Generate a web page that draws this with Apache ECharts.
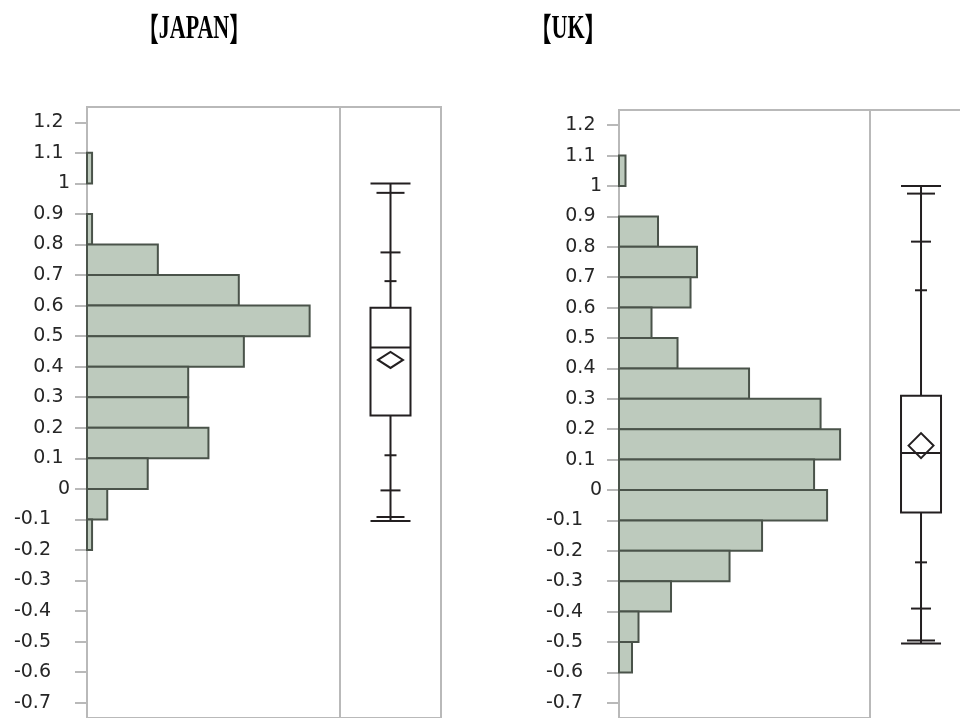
<!DOCTYPE html>
<html>
<head>
<meta charset="utf-8">
<script src="https://cdn.jsdelivr.net/npm/echarts@6/dist/echarts.min.js"></script>
<style>
html,body{margin:0;padding:0;background:#fff;}
#chart{width:960px;height:718px;}
</style>
</head>
<body>
<div id="chart"></div>
<script>
// ---- data ----
const binWidth = 0.1;
const jpBinLows = [1.0, 0.9, 0.8, 0.7, 0.6, 0.5, 0.4, 0.3, 0.2, 0.1, 0.0, -0.1, -0.2];
const jpCounts  = [1, 0, 1, 14, 30, 44, 31, 20, 20, 24, 12, 4, 1];
const ukBinLows = [1.0, 0.9, 0.8, 0.7, 0.6, 0.5, 0.4, 0.3, 0.2, 0.1, 0.0, -0.1, -0.2, -0.3, -0.4, -0.5, -0.6];
const ukCounts  = [1, 0, 6, 12, 11, 5, 9, 20, 31, 34, 30, 32, 22, 17, 8, 3, 2];
const yTickValues = [1.2, 1.1, 1.0, 0.9, 0.8, 0.7, 0.6, 0.5, 0.4, 0.3, 0.2, 0.1, 0.0, -0.1, -0.2, -0.3, -0.4, -0.5, -0.6, -0.7];
const statNames = ['min', 'p1', 'p5', 'p10', 'q1', 'median', 'q3', 'p90', 'p95', 'p99', 'max', 'mean'];
const jpStats = [-0.105, -0.092, -0.005, 0.11, 0.24, 0.463, 0.593, 0.68, 0.774, 0.969, 1.0, 0.422];
const ukStats = [-0.505, -0.495, -0.39, -0.238, -0.074, 0.122, 0.31, 0.657, 0.817, 0.975, 1.0, 0.146];
const titles = ['JAPAN', 'UK'];

// ---- rendering ----
const chart = echarts.init(document.getElementById('chart'), null, {renderer: 'canvas'});
const frameColor = '#b9b9b9';
const yMin = -0.75, yMax = 1.25;

function histData(lows, counts) {
  return lows.map((lo, i) => [lo, lo + binWidth, counts[i]]);
}
function histRender(params, api) {
  const lo = api.value(0), hi = api.value(1), c = api.value(2);
  if (!c) return null;
  const a = api.coord([0, hi]);
  const b = api.coord([c, lo]);
  return {
    type: 'rect',
    shape: {x: a[0], y: a[1], width: b[0] - a[0], height: b[1] - a[1]},
    style: {fill: '#bdcabd', stroke: '#4a534a', lineWidth: 2}
  };
}
function makeBoxRender(diamondHalfH) {
  return function (params, api) {
    const v = {};
    statNames.forEach((n, i) => { v[n] = api.value(i + 1); });
    const cx = api.coord([api.value(0), 0])[0];
    const Y = val => api.coord([api.value(0), val])[1];
    const ink = '#231f20';
    const ls = {stroke: ink, lineWidth: 2};
    const cap = (val, hw) => ({type: 'line', shape: {x1: cx - hw, y1: Y(val), x2: cx + hw, y2: Y(val)}, style: ls});
    const ym = Y(v.mean);
    return {
      type: 'group',
      children: [
        {type: 'line', shape: {x1: cx, y1: Y(v.max), x2: cx, y2: Y(v.min)}, style: ls},
        cap(v.max, 20), cap(v.p99, 14), cap(v.p95, 10), cap(v.p90, 6),
        cap(v.p10, 6), cap(v.p5, 10), cap(v.p1, 14), cap(v.min, 20),
        {type: 'rect', shape: {x: cx - 20, y: Y(v.q3), width: 40, height: Y(v.q1) - Y(v.q3)},
          style: {fill: '#fff', stroke: ink, lineWidth: 2}},
        {type: 'polygon', shape: {points: [[cx - 12.5, ym], [cx, ym - diamondHalfH], [cx + 12.5, ym], [cx, ym + diamondHalfH]]},
          style: {fill: '#fff', stroke: ink, lineWidth: 2}},
        {type: 'line', shape: {x1: cx - 20, y1: Y(v.median), x2: cx + 20, y2: Y(v.median)}, style: ls}
      ]
    };
  };
}
function labelFmt(val) {
  const r = Math.round(val * 10) / 10;
  const s = String(r);
  if (r < 0) return '{n|' + s + '}';
  if (Number.isInteger(r)) return '{i|' + s + '}';
  return '{d|' + s + '}';
}
const lblFont = {fontFamily: 'DejaVu Sans', fontSize: 19, color: '#262626'};
function valueYAxis(gridIndex, visible) {
  return {
    type: 'value', gridIndex: gridIndex, min: yMin, max: yMax,
    show: visible,
    axisLine: {show: visible, lineStyle: {color: frameColor, width: 2}},
    axisTick: {show: visible, customValues: yTickValues, length: 12, lineStyle: {color: frameColor, width: 2}},
    axisLabel: {
      show: visible, customValues: yTickValues, margin: 17, formatter: labelFmt,
      ...lblFont,
      rich: {
        i: {...lblFont, padding: [0, 0, 0, 0]},
        d: {...lblFont, padding: [0, 6.5, 0, 0]},
        n: {...lblFont, padding: [0, 19, 0, 0]}
      }
    },
    splitLine: {show: false}
  };
}
const gridStyle = {show: true, borderColor: frameColor, borderWidth: 2, backgroundColor: 'transparent'};
const option = {
  animation: false,
  backgroundColor: '#fff',
  grid: [
    {left: 87, top: 107, width: 253, height: 616, ...gridStyle},
    {left: 340, top: 107, width: 101, height: 616, ...gridStyle},
    {left: 619, top: 110, width: 251, height: 612, ...gridStyle},
    {left: 870, top: 110, width: 90, height: 612, show: false}
  ],
  xAxis: [
    {type: 'value', gridIndex: 0, min: 0, max: 50, show: false},
    {type: 'value', gridIndex: 1, min: 0, max: 1, show: false},
    {type: 'value', gridIndex: 2, min: 0, max: 38.6, show: false},
    {type: 'value', gridIndex: 3, min: 0, max: 0.882, position: 'top', show: true,
      axisLine: {show: true, onZero: false, lineStyle: {color: frameColor, width: 2}},
      axisTick: {show: false}, axisLabel: {show: false}, splitLine: {show: false}}
  ],
  yAxis: [valueYAxis(0, true), valueYAxis(1, false), valueYAxis(2, true), valueYAxis(3, false)],
  series: [
    {type: 'custom', xAxisIndex: 0, yAxisIndex: 0, renderItem: histRender, data: histData(jpBinLows, jpCounts), encode: {x: 2, y: 0}},
    {type: 'custom', xAxisIndex: 1, yAxisIndex: 1, renderItem: makeBoxRender(8), data: [[0.5].concat(jpStats)], encode: {x: 0, y: 1}},
    {type: 'custom', xAxisIndex: 2, yAxisIndex: 2, renderItem: histRender, data: histData(ukBinLows, ukCounts), encode: {x: 2, y: 0}},
    {type: 'custom', xAxisIndex: 3, yAxisIndex: 3, renderItem: makeBoxRender(12.5), data: [[0.5].concat(ukStats)], encode: {x: 0, y: 1}}
  ],
  graphic: [
    {type: 'text', x: 194, y: 29, scaleX: 0.667,
      style: {text: '{b|【}{t|' + titles[0] + '}{b|】}', x: 0, y: 0, align: 'center', verticalAlign: 'middle',
        rich: {b: {fontFamily: 'Noto Sans CJK JP', fontWeight: 'bold', fontSize: 32, fill: '#000'},
               t: {fontFamily: 'Liberation Serif', fontWeight: 'bold', fontSize: 33, fill: '#000'}}}},
    {type: 'text', x: 568, y: 29, scaleX: 0.667,
      style: {text: '{b|【}{t|' + titles[1] + '}{b|】}', x: 0, y: 0, align: 'center', verticalAlign: 'middle',
        rich: {b: {fontFamily: 'Noto Sans CJK JP', fontWeight: 'bold', fontSize: 32, fill: '#000'},
               t: {fontFamily: 'Liberation Serif', fontWeight: 'bold', fontSize: 33, fill: '#000'}}}}
  ]
};
chart.setOption(option);
</script>
</body>
</html>
